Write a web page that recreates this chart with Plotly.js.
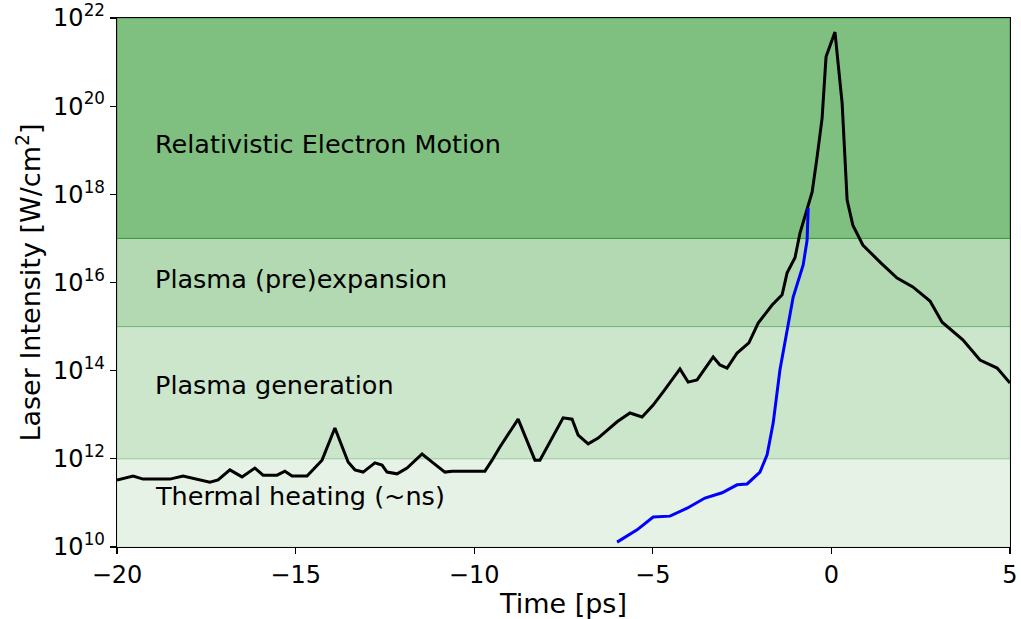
<!DOCTYPE html>
<html>
<head>
<meta charset="utf-8">
<script src="https://cdn.plot.ly/plotly-3.0.1.min.js"></script>
<style>
  html, body { margin: 0; padding: 0; background: #ffffff; }
  #chart { width: 1021px; height: 619px; }
</style>
</head>
<body>
<div id="chart"></div>
<script>
// Laser pulse temporal contrast: time in ps, intensity exponents (log10 W/cm^2)
const pulseTime = [
  -20.00, -19.55, -19.27, -18.52, -18.15, -17.76, -17.40, -17.17, -16.84, -16.50,
  -16.14, -15.91, -15.52, -15.30, -15.10, -14.68, -14.26, -13.90, -13.53, -13.34,
  -13.11, -12.78, -12.58, -12.44, -12.16, -11.88, -11.46, -11.15, -10.82, -10.62,
  -9.70, -9.50, -9.28, -8.77, -8.30, -8.16, -7.51, -7.26, -7.09, -6.81,
  -6.53, -6.00, -5.64, -5.30, -4.99, -4.71, -4.24, -4.01, -3.76, -3.31,
  -3.12, -2.92, -2.64, -2.31, -2.05, -1.66, -1.38, -1.24, -1.02, -0.88,
  -0.68, -0.54, -0.40, -0.26, -0.15, 0.10, 0.30, 0.44, 0.60, 0.88,
  1.39, 1.84, 2.28, 2.76, 3.10, 3.68, 4.16, 4.64, 5.00
];
const pulseLogI = [
  11.52, 11.61, 11.54, 11.54, 11.61, 11.54, 11.47, 11.52, 11.75, 11.59,
  11.79, 11.63, 11.63, 11.72, 11.61, 11.61, 11.97, 12.70, 11.93, 11.75,
  11.70, 11.91, 11.86, 11.70, 11.66, 11.79, 12.11, 11.91, 11.70, 11.72,
  11.72, 11.97, 12.27, 12.90, 11.97, 11.97, 12.93, 12.90, 12.54, 12.34,
  12.47, 12.84, 13.04, 12.95, 13.22, 13.52, 14.04, 13.74, 13.79, 14.31,
  14.13, 14.06, 14.40, 14.63, 15.08, 15.49, 15.72, 16.22, 16.56, 17.12,
  17.65, 18.05, 18.85, 19.73, 21.12, 21.68, 20.07, 17.87, 17.30, 16.85,
  16.44, 16.10, 15.90, 15.58, 15.10, 14.70, 14.24, 14.06, 13.72
];

// Rising edge curve (blue)
const edgeTime = [
  -6.00, -5.44, -4.99, -4.52, -4.04, -3.54, -3.06, -2.64, -2.36, -2.00,
  -1.80, -1.63, -1.44, -1.24, -1.07, -0.79, -0.68, -0.65
];
const edgeLogI = [
  10.11, 10.39, 10.68, 10.70, 10.88, 11.11, 11.23, 11.41, 11.43, 11.70,
  12.09, 12.81, 14.02, 14.92, 15.67, 16.40, 16.96, 17.69
];

// Intensity regimes: lower / upper bound (W/cm^2), label, label height exponent
const regimeLow   = [1e10, 1e12, 1e15, 1e17];
const regimeHigh  = [1e12, 1e15, 1e17, 1e22];
const regimeAlpha = [0.1, 0.2, 0.3, 0.5];
const regimeName  = ['Thermal heating (~ns)', 'Plasma generation', 'Plasma (pre)expansion', 'Relativistic Electron Motion'];
const regimeLabelLog = [11.15, 13.68, 16.07, 19.15];

// Axis ticks
const xTicks = [-20, -15, -10, -5, 0, 5];
const yTickExp = [10, 12, 14, 16, 18, 20, 22];

const FONT = 'DejaVu Sans, sans-serif';
const pow10 = e => Math.pow(10, e);

const traces = [
  {
    x: pulseTime, y: pulseLogI.map(pow10),
    type: 'scatter', mode: 'lines',
    line: { color: '#000000', width: 3 },
    hoverinfo: 'skip', showlegend: false
  },
  {
    x: edgeTime, y: edgeLogI.map(pow10),
    type: 'scatter', mode: 'lines',
    line: { color: '#0000ff', width: 3 },
    hoverinfo: 'skip', showlegend: false
  }
];

const shapes = regimeLow.map((lo, i) => ({
  type: 'rect', layer: 'below',
  xref: 'paper', x0: 0, x1: 1,
  yref: 'y', y0: lo, y1: regimeHigh[i],
  fillcolor: `rgba(0,128,0,${regimeAlpha[i]})`,
  line: { color: `rgba(0,128,0,${regimeAlpha[i]})`, width: 1 }
}));

const annotations = regimeName.map((name, i) => ({
  text: name,
  x: -19, xref: 'x', xanchor: 'left',
  y: regimeLabelLog[i], yref: 'y', yanchor: 'middle',
  showarrow: false,
  font: { family: FONT, size: 25.5, color: '#000000' }
}));

const layout = {
  width: 1021, height: 619,
  margin: { l: 117, r: 11, t: 18, b: 72, pad: 0 },
  paper_bgcolor: '#ffffff', plot_bgcolor: '#ffffff',
  font: { family: FONT, size: 24, color: '#000000' },
  showlegend: false,
  xaxis: {
    range: [-20, 5],
    tickvals: xTicks,
    ticks: 'outside', ticklen: 6, tickwidth: 1.2, tickcolor: '#000000',
    showline: true, linecolor: '#000000', linewidth: 1.2, mirror: true,
    showgrid: false, zeroline: false,
    tickfont: { family: FONT, size: 24, color: '#000000' },
    title: { text: 'Time [ps]', font: { family: FONT, size: 27, color: '#000000' }, standoff: 3 }
  },
  yaxis: {
    type: 'log',
    range: [10, 22],
    tickvals: yTickExp.map(pow10),
    ticktext: yTickExp.map(e => `10<sup>${e}</sup>`),
    ticks: 'outside', ticklen: 6, tickwidth: 1.2, tickcolor: '#000000',
    showline: true, linecolor: '#000000', linewidth: 1.2, mirror: true,
    showgrid: false, zeroline: false,
    tickfont: { family: FONT, size: 24, color: '#000000' },
    title: { text: 'Laser Intensity [W/cm<sup>2</sup>]', font: { family: FONT, size: 27, color: '#000000' }, standoff: 4 }
  },
  shapes: shapes,
  annotations: annotations
};

Plotly.newPlot('chart', traces, layout, { staticPlot: true, displayModeBar: false });
</script>
</body>
</html>
